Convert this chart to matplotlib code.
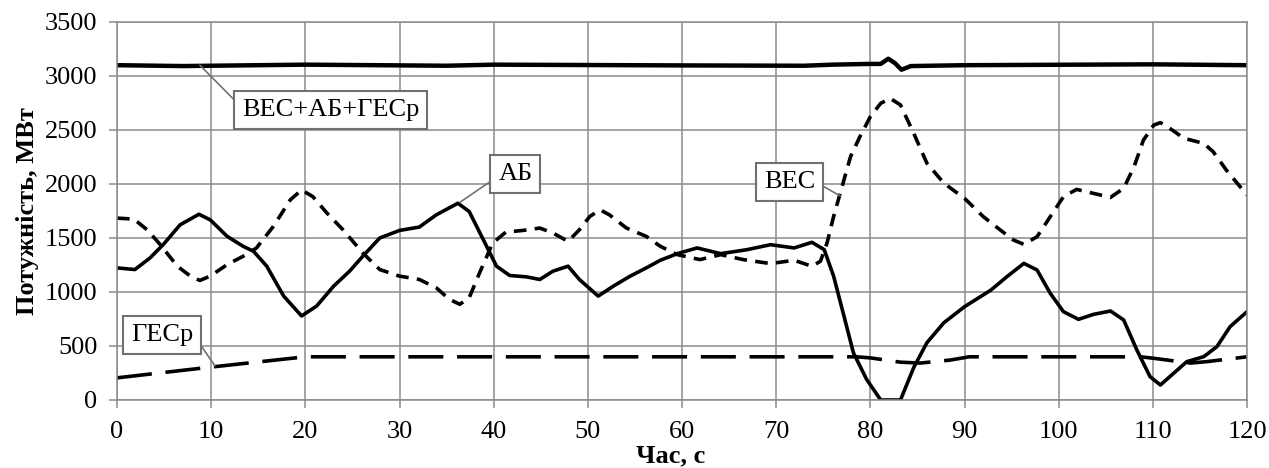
import matplotlib
matplotlib.use("Agg")
import matplotlib.pyplot as plt

plt.rcParams["font.family"] = ["Liberation Serif", "DejaVu Serif"]

# Час, с / Потужність, МВт
t_total = [0, 7, 20, 35, 40, 60, 73, 76, 80, 81.1, 81.9, 82.6, 83.3, 84.3, 90,
           110, 120]
p_total = [3100, 3092, 3105, 3095, 3105, 3098, 3095, 3105, 3112, 3112, 3160, 3120,
           3058, 3092, 3100, 3108, 3100]

t_ab = [0, 1.9, 3.5, 4.9, 6.7, 8.7, 9.9, 11.7, 13.4, 14.5, 15.9, 17.7, 19.6, 21.2,
        23, 24.7, 26.1, 27.9, 30, 32.1, 33.9, 36.2, 37.4, 38.9, 40.3, 41.7, 43.5,
        44.9, 46.3, 47.9, 49.1, 51.1, 52.7, 54.5, 56.2, 57.7, 59.5, 61.6, 64.1,
        66.9, 69.4, 71.9, 73.8, 75.1, 76.1, 77.2, 78.2, 79.6, 81.1, 83.2, 84.6,
        86, 87.8, 90, 92.8, 94.5, 96.3, 97.7, 99.1, 100.5, 102.1, 103.7, 105.5,
        106.9, 108.3, 109.7, 110.8, 112.2, 113.6, 115.4, 116.8, 118.2, 120]
p_ab = [1223, 1208, 1315, 1438, 1622, 1720, 1668, 1515, 1423, 1377, 1239, 962,
        778, 870, 1054, 1193, 1331, 1500, 1570, 1601, 1714, 1822, 1745, 1484,
        1239, 1153, 1140, 1116, 1193, 1239, 1116, 962, 1054, 1147, 1223, 1294,
        1355, 1408, 1355, 1392, 1438, 1408, 1460, 1392, 1146, 776, 437, 191, 0,
        0, 300, 530, 715, 864, 1018, 1142, 1265, 1204, 988, 818, 747, 793, 824,
        741, 463, 216, 139, 247, 355, 401, 494, 679, 818]

t_wind = [0, 1.8, 3.2, 4.6, 6.4, 7.8, 8.8, 9.9, 11.7, 13.4, 14.8, 16.6, 18.4,
          19.6, 20.8, 22.3, 24, 26.1, 27.9, 30, 32.1, 33.9, 35.3, 36.4, 37.4,
          38.5, 39.9, 41.3, 43.1, 44.9, 46.3, 47.9, 49.1, 50.2, 51.3, 52.3, 54.1,
          56.2, 57.7, 59.5, 61.9, 64.1, 66.5, 69.4, 71.9, 73.8, 74.7, 75.4, 76.1,
          76.8, 77.9, 78.9, 80, 81.1, 82.1, 83.2, 84.6, 86, 87.8, 90, 92, 93.8,
          95.2, 96.3, 97.7, 99.1, 100.5, 101.9, 103.7, 105.5, 106.9, 108, 109,
          110.1, 110.8, 111.8, 113.3, 115.4, 116.4, 117.8, 120]
p_wind = [1684, 1675, 1576, 1438, 1239, 1147, 1107, 1147, 1254, 1331, 1407, 1607,
          1853, 1945, 1883, 1730, 1576, 1361, 1208, 1147, 1116, 1039, 932, 886,
          947, 1177, 1454, 1555, 1570, 1592, 1546, 1469, 1576, 1699, 1761, 1714,
          1592, 1515, 1423, 1346, 1300, 1346, 1300, 1263, 1294, 1238, 1285, 1454,
          1700, 1916, 2255, 2440, 2624, 2747, 2793, 2732, 2470, 2193, 2008, 1867,
          1697, 1574, 1481, 1441, 1512, 1697, 1882, 1950, 1913, 1876, 1960, 2160,
          2407, 2546, 2568, 2515, 2423, 2376, 2299, 2129, 1898]

t_hydro = [0, 10, 20, 78.5, 80, 83.2, 85.3, 88.5, 90.5, 108.7, 110.1, 114, 115.7,
           120]
p_hydro = [205, 305, 400, 400, 390, 350, 342, 370, 400, 400, 386, 342, 355, 400]

fig, ax = plt.subplots(figsize=(12.69, 4.68), dpi=100)
fig.subplots_adjust(left=0.0922, right=0.9827, bottom=0.1453, top=0.953)

ax.plot(t_total, p_total, color="black", lw=3.2)
ax.plot(t_wind, p_wind, color="black", lw=2.6, dashes=(3.5, 2.3))
ax.plot(t_ab, p_ab, color="black", lw=2.6)
ax.plot(t_hydro, p_hydro, color="black", lw=2.6, dashes=(9.7, 3.8))

ax.set_xlim(0, 120)
ax.set_ylim(0, 3500)
ax.set_xticks(range(0, 121, 10))
ax.set_yticks(range(0, 3501, 500))
ax.grid(True, color="#8c8c8c", lw=1.1)
ax.set_axisbelow(True)
for s in ax.spines.values():
    s.set_color("#8c8c8c")
    s.set_linewidth(1.1)
ax.tick_params(direction="out", length=6, width=1.1, color="#8c8c8c",
               labelsize=19)
ax.tick_params(axis="x", pad=9)
ax.tick_params(axis="y", pad=8)

ax.set_xlabel("Час, с", fontsize=19, fontweight="bold")
ax.xaxis.set_label_coords(0.49, -0.118)
ax.set_ylabel("Потужність, МВт", fontsize=19, fontweight="bold", labelpad=4)

box = dict(boxstyle="square,pad=0.3", fc="white", ec="#707070", lw=1.5)
arrow = dict(arrowstyle="-", color="#707070", lw=1.2, shrinkA=0, shrinkB=0)

ax.annotate("ВЕС+АБ+ГЕСр", xy=(8.8, 3100), xytext=(22.7, 2685), fontsize=19,
            ha="center", va="center", bbox=box,
            arrowprops=dict(arrow, relpos=(0, 0.6)))
ax.annotate("АБ", xy=(36.4, 1830), xytext=(42.3, 2093), fontsize=19,
            ha="center", va="center", bbox=box,
            arrowprops=dict(arrow, relpos=(0, 0.4)))
ax.annotate("ВЕС", xy=(76.8, 1890), xytext=(71.4, 2021), fontsize=19,
            ha="center", va="center", bbox=box,
            arrowprops=dict(arrow, relpos=(1, 0.5)))
ax.annotate("ГЕСр", xy=(10.4, 317), xytext=(4.8, 605), fontsize=19,
            ha="center", va="center", bbox=box,
            arrowprops=dict(arrow, relpos=(1, 0.5)))

plt.savefig("out.png", dpi=100)
